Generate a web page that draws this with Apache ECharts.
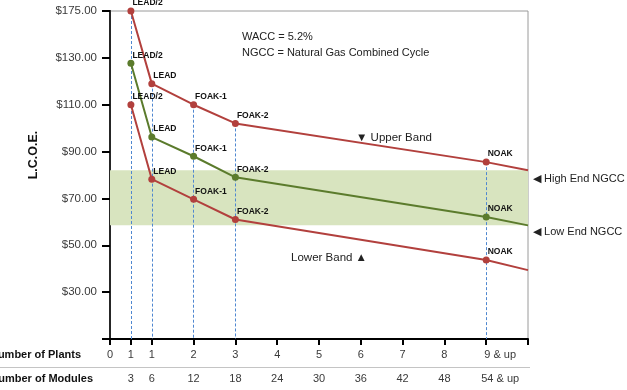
<!DOCTYPE html>
<html>
<head>
<meta charset="utf-8">
<script src="https://cdn.jsdelivr.net/npm/echarts@6/dist/echarts.min.js"></script>
<style>html,body{margin:0;padding:0;background:#fff;}#c{width:627px;height:390px;}</style>
</head>
<body>
<div id="c"></div>
<script>
// ---- data ----
const moduleTicks = [0, 3, 6, 12, 18, 24, 30, 36, 42, 48, 54];
const plantLabels = ['0', '1', '1', '2', '3', '4', '5', '6', '7', '8', '9 & up'];
const moduleLabels = ['', '3', '6', '12', '18', '24', '30', '36', '42', '48', '54 & up'];
const yStops = [10, 30, 50, 70, 90, 110, 130, 175];          // $ value at each gridline
const yTickLabels = ['', '$30.00', '$50.00', '$70.00', '$90.00', '$110.00', '$130.00', '$175.00'];
const pointModules = [3, 6, 12, 18, 54, 60];
const pointLabels = ['LEAD/2', 'LEAD', 'FOAK-1', 'FOAK-2', 'NOAK', ''];
const upperBand = [175, 119, 110, 102, 85.5, 82];
const midCase = [127.7, 96.2, 88, 79, 62.1, 58.5];
const lowerBand = [110, 78.2, 69.6, 61, 43.7, 39.4];
const ngccHigh = 82;
const ngccLow = 58.5;
const dropLineModules = [3, 6, 12, 18, 54];

// axis scale: gridlines are evenly spaced, values between are interpolated
function toPos(v) {
  for (let i = 0; i < yStops.length - 1; i++) {
    if (v <= yStops[i + 1]) return i + (v - yStops[i]) / (yStops[i + 1] - yStops[i]);
  }
  return yStops.length - 1;
}
const FONT = 'Liberation Sans';
const RED = '#b2403d', GREEN = '#5b7b2c';

function mk(values) {
  return values.map((v, i) => {
    const d = { value: [pointModules[i], toPos(v)], name: pointLabels[i] };
    if (!pointLabels[i]) { d.symbol = 'none'; d.label = { show: false }; }
    return d;
  });
}
function lineSeries(values, color) {
  return {
    type: 'line', data: mk(values), z: 5,
    symbol: 'circle', symbolSize: 7,
    itemStyle: { color: color },
    lineStyle: { color: color, width: 2 },
    label: {
      show: true, position: 'right', distance: 0, offset: [-2, -8],
      formatter: p => p.name, fontFamily: FONT, fontWeight: 'bold', fontSize: 8.5, color: '#111'
    },
    emphasis: { disabled: true }, animation: false
  };
}

const chart = echarts.init(document.getElementById('c'), null, { renderer: 'canvas' });
const lblStyle = { fontFamily: FONT, fontSize: 11, color: '#3a3a3a' };
chart.setOption({
  animation: false,
  grid: { left: 110, right: 99, top: 11, bottom: 51, show: true, borderColor: '#9a9a9a', borderWidth: 1, outerBoundsMode: 'none' },
  xAxis: [{
    type: 'value', min: 0, max: 60, position: 'bottom',
    axisLine: { show: true, onZero: false, lineStyle: { color: '#000', width: 2 } },
    axisTick: { show: true, customValues: moduleTicks.concat([60]), length: 6, lineStyle: { color: '#000', width: 2 } },
    axisLabel: Object.assign({
      customValues: moduleTicks, margin: 10,
      formatter: v => { const i = moduleTicks.indexOf(v); const t = plantLabels[i]; return i === moduleTicks.length - 1 ? '{u|' + t + '}' : t; },
      rich: { u: { padding: [0, 0, 0, 28], fontFamily: FONT, fontSize: 11, color: '#3a3a3a' } }
    }, lblStyle),
    splitLine: { show: false }
  }, {
    type: 'value', min: 0, max: 60, position: 'bottom', offset: 24,
    axisLine: { show: false }, axisTick: { show: false },
    axisLabel: Object.assign({
      customValues: moduleTicks, margin: 10,
      formatter: v => { const i = moduleTicks.indexOf(v); const t = moduleLabels[i]; return i === moduleTicks.length - 1 ? '{u|' + t + '}' : t; },
      rich: { u: { padding: [0, 0, 0, 28], fontFamily: FONT, fontSize: 11, color: '#3a3a3a' } }
    }, lblStyle),
    splitLine: { show: false }
  }],
  yAxis: [{
    type: 'value', min: 0, max: 7, interval: 1,
    axisLine: { show: true, lineStyle: { color: '#000', width: 2 } },
    axisTick: { show: true, length: 8, lineStyle: { color: '#000', width: 2 } },
    axisLabel: { formatter: v => yTickLabels[Math.round(v)], margin: 13, fontFamily: FONT, fontSize: 11.5, color: '#3a3a3a' },
    splitLine: { show: false }
  }, {
    type: 'value', min: 0, max: 7, position: 'right',
    axisLine: { show: true, lineStyle: { color: '#333', width: 1.5 } },
    axisTick: { show: false }, axisLabel: { show: false }, splitLine: { show: false }
  }],
  series: [
    {
      type: 'line', data: [], z: 1, silent: true,
      markArea: {
        silent: true, itemStyle: { color: '#d8e4bf' },
        data: [[{ coord: [0, toPos(ngccLow)] }, { coord: [60, toPos(ngccHigh)] }]]
      }
    },
    {
      type: 'line', data: [], z: 2, silent: true,
      markLine: {
        silent: true, symbol: 'none', label: { show: false },
        lineStyle: { color: '#4f87d0', type: [3, 2], width: 1 },
        data: dropLineModules.map(m => {
          const i = pointModules.indexOf(m);
          return [{ coord: [m, toPos(upperBand[i])] }, { coord: [m, 0] }];
        })
      }
    },
    lineSeries(upperBand, RED),
    lineSeries(midCase, GREEN),
    lineSeries(lowerBand, RED)
  ],
  graphic: [
    { type: 'text', x: 34, y: 155, rotation: Math.PI / 2,
      style: { text: 'L.C.O.E.', fontFamily: FONT, fontSize: 12.5, fontWeight: 'bold', fill: '#111', align: 'center', verticalAlign: 'middle' } },
    { type: 'text', x: 81, y: 355, style: { text: 'Number of Plants', fontFamily: FONT, fontSize: 11, fontWeight: 'bold', fill: '#111', align: 'right', verticalAlign: 'middle' } },
    { type: 'text', x: 93, y: 379, style: { text: 'Number of Modules', fontFamily: FONT, fontSize: 11, fontWeight: 'bold', fill: '#111', align: 'right', verticalAlign: 'middle' } },
    { type: 'line', shape: { x1: 0, y1: 367.5, x2: 530, y2: 367.5 }, style: { stroke: '#c4c4c4', lineWidth: 1 } },
    { type: 'text', x: 242, y: 37, style: { text: 'WACC = 5.2%', fontFamily: FONT, fontSize: 11, fill: '#222', verticalAlign: 'middle' } },
    { type: 'text', x: 242, y: 52.5, style: { text: 'NGCC = Natural Gas Combined Cycle', fontFamily: FONT, fontSize: 11, fill: '#222', verticalAlign: 'middle' } },
    { type: 'text', x: 356, y: 138, style: { text: '▼ Upper Band', fontFamily: FONT, fontSize: 11.5, fill: '#222', verticalAlign: 'middle' } },
    { type: 'text', x: 367, y: 258, style: { text: 'Lower Band ▲', fontFamily: FONT, fontSize: 11.5, fill: '#222', align: 'right', verticalAlign: 'middle' } },
    { type: 'text', x: 533, y: 179, style: { text: '◀ High End NGCC', fontFamily: FONT, fontSize: 11, fill: '#222', verticalAlign: 'middle' } },
    { type: 'text', x: 533, y: 232, style: { text: '◀ Low End NGCC', fontFamily: FONT, fontSize: 11, fill: '#222', verticalAlign: 'middle' } }
  ]
});
</script>
</body>
</html>
